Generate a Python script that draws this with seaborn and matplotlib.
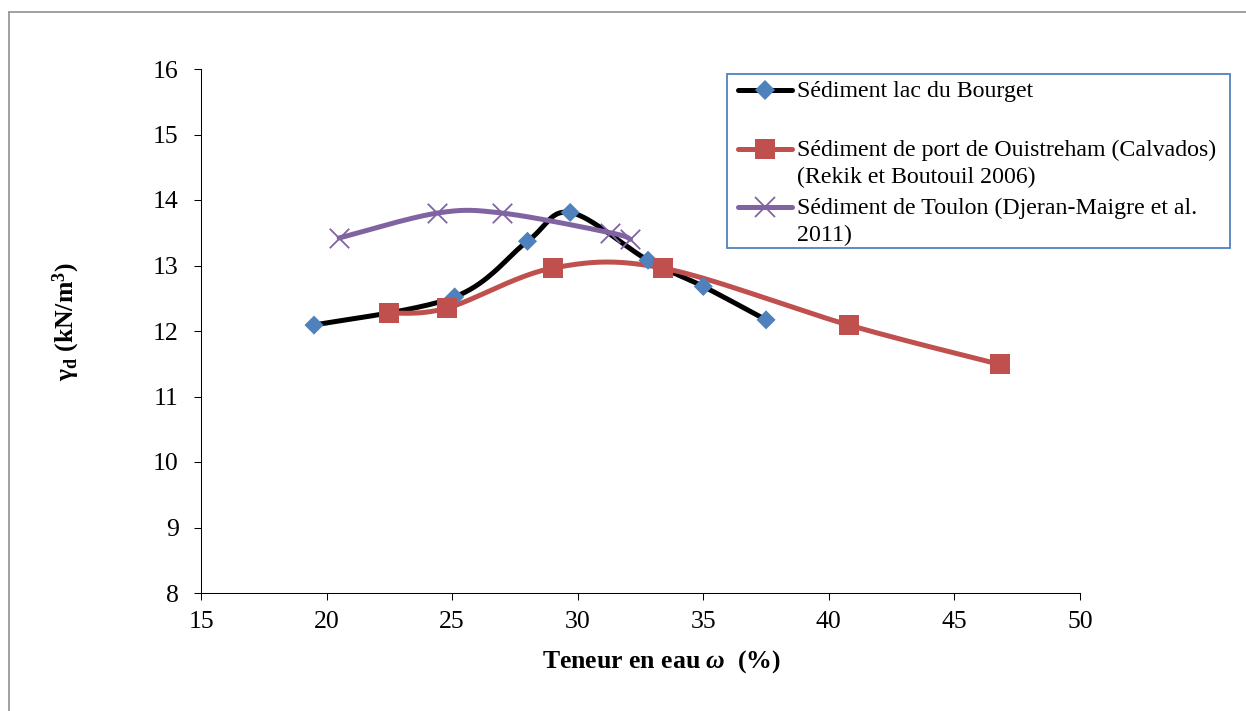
import numpy as np
import pandas as pd
import matplotlib
matplotlib.use("Agg")
import matplotlib.pyplot as plt
import seaborn as sns
from matplotlib.lines import Line2D
from matplotlib.patches import Rectangle

# Water content w (%) and dry unit weight gamma_d (kN/m3) for each sediment
bourget_w = [19.5, 25.1, 28.0, 29.7, 32.8, 35.0, 37.5]
bourget_g = [12.09, 12.52, 13.37, 13.81, 13.08, 12.68, 12.17]

ouistreham_w = [22.5, 24.8, 29.0, 33.4, 40.8, 46.8]
ouistreham_g = [12.27, 12.35, 12.96, 12.96, 12.09, 11.49]

toulon_w = [20.5, 24.4, 27.0, 31.3, 32.1]
toulon_g = [13.42, 13.80, 13.80, 13.50, 13.40]

series_labels = [
    ["Sédiment lac du Bourget"],
    ["Sédiment de port de Ouistreham (Calvados)", "(Rekik et Boutouil 2006)"],
    ["Sédiment de Toulon (Djeran-Maigre et al.", "2011)"],
]
x_ticks = [15, 20, 25, 30, 35, 40, 45, 50]
y_ticks = [8, 9, 10, 11, 12, 13, 14, 15, 16]

W, H = 1246, 711

sns.set_style("ticks")
plt.rcParams["font.family"] = ["Liberation Serif", "DejaVu Serif"]
plt.rcParams["text.color"] = "black"
plt.rcParams["axes.labelcolor"] = "black"
plt.rcParams["mathtext.fontset"] = "custom"
plt.rcParams["mathtext.rm"] = "Liberation Serif:bold"
plt.rcParams["mathtext.bf"] = "Liberation Serif:bold"
plt.rcParams["mathtext.it"] = "Liberation Serif:bold:italic"


def smooth(xs, ys, n=40):
    """Piecewise cubic Bezier through the points (spreadsheet-style smoothed line)."""
    p = np.column_stack([xs, ys]).astype(float)
    out = []
    for i in range(len(p) - 1):
        p0 = p[max(i - 1, 0)]
        p1 = p[i]
        p2 = p[i + 1]
        p3 = p[min(i + 2, len(p) - 1)]
        c1 = p1 + (p2 - p0) / 6.0
        c2 = p2 - (p3 - p1) / 6.0
        t = np.linspace(0, 1, n)[:, None]
        seg = ((1 - t) ** 3) * p1 + 3 * ((1 - t) ** 2) * t * c1 + 3 * (1 - t) * t ** 2 * c2 + t ** 3 * p2
        out.append(seg if i == 0 else seg[1:])
    return np.vstack(out)


def fx(px):
    return px / W


def fy(py):
    return 1 - py / H


series = [
    dict(w=bourget_w, g=bourget_g, line="#000000", mcol="#4F81BD", marker="D", ms=9.7, mew=0),
    dict(w=ouistreham_w, g=ouistreham_g, line="#C0504D", mcol="#C0504D", marker="s", ms=14.4, mew=0),
    dict(w=toulon_w, g=toulon_g, line="#8064A2", mcol="#8064A2", marker="x", ms=14.0, mew=1.3),
]

fig = plt.figure(figsize=(W / 100, H / 100), dpi=100)
ax = fig.add_axes([fx(201), fy(593), fx(1080) - fx(201), fy(69) - fy(593)])

# smoothed connecting lines first, markers on top
for k, s in enumerate(series):
    cur = smooth(s["w"], s["g"])
    df = pd.DataFrame({"w": cur[:, 0], "g": cur[:, 1]})
    sns.lineplot(data=df, x="w", y="g", sort=False, estimator=None, color=s["line"],
                 linewidth=3.6, ax=ax, zorder=2 + 0.1 * k)

for k, s in enumerate(series):
    df = pd.DataFrame({"w": s["w"], "g": s["g"]})
    if s["marker"] == "x":
        sns.scatterplot(data=df, x="w", y="g", marker="x", s=s["ms"] ** 2, color=s["mcol"],
                        linewidth=s["mew"], ax=ax, zorder=3 + 0.1 * k)
    else:
        sns.scatterplot(data=df, x="w", y="g", marker=s["marker"], s=s["ms"] ** 2, color=s["mcol"],
                        edgecolor="none", linewidth=0, ax=ax, zorder=3 + 0.1 * k)

ax.set_xlim(15, 50)
ax.set_ylim(8, 16)
ax.set_xticks(x_ticks)
ax.set_yticks(y_ticks)
ax.tick_params(axis="both", direction="out", length=5, width=0.75, color="black",
               labelsize=18.5, labelcolor="black")
ax.tick_params(axis="x", pad=8)
ax.tick_params(axis="y", pad=11)
for side in ["top", "right"]:
    ax.spines[side].set_visible(False)
for side in ["left", "bottom"]:
    ax.spines[side].set_color("black")
    ax.spines[side].set_linewidth(0.75)

ax.set_xlabel("Teneur en eau $\\omega$  (%)", fontsize=18.5, fontweight="bold", color="black")
ax.xaxis.label.set_va("baseline")
ax.xaxis.set_label_coords((661 - 201) / 879, (593 - 667.7) / 524)
ax.set_ylabel("γ$_\\mathrm{d}$ (kN/m$^\\mathrm{3}$)", fontsize=18.5, fontweight="bold",
              va="center", ha="center", color="black")
ax.yaxis.set_label_coords((66.7 - 201) / 879, (593 - 322) / 524)

# legend box drawn in figure pixels
fig.add_artist(Rectangle((fx(727), fy(248)), fx(1230) - fx(727), fy(74) - fy(248),
                         transform=fig.transFigure, facecolor="white", edgecolor="#4F81BD",
                         linewidth=1.3, zorder=5))
handle_y = [90, 149, 207]
baselines = [[97], [156, 183], [214, 241]]
for s, hy, lines, bls in zip(series, handle_y, series_labels, baselines):
    fig.add_artist(Line2D([fx(738), fx(792)], [fy(hy), fy(hy)], transform=fig.transFigure,
                          color=s["line"], linewidth=3.6, solid_capstyle="round", zorder=6))
    fig.add_artist(Line2D([fx(765)], [fy(hy)], transform=fig.transFigure, linestyle="none",
                          marker=s["marker"], markersize=s["ms"], markerfacecolor=s["mcol"],
                          markeredgecolor=s["mcol"], markeredgewidth=s["mew"], zorder=7))
    for txt, b in zip(lines, bls):
        fig.text(fx(797), fy(b), txt, fontsize=17.2, va="baseline", ha="left",
                 color="black", zorder=8)

# outer chart border
fig.add_artist(Line2D([fx(9), fx(9)], [fy(12), 0], transform=fig.transFigure,
                      color="#868686", linewidth=1.1))
fig.add_artist(Line2D([fx(9), 1], [fy(12), fy(12)], transform=fig.transFigure,
                      color="#868686", linewidth=1.1))

fig.savefig("out.png", dpi=100)
